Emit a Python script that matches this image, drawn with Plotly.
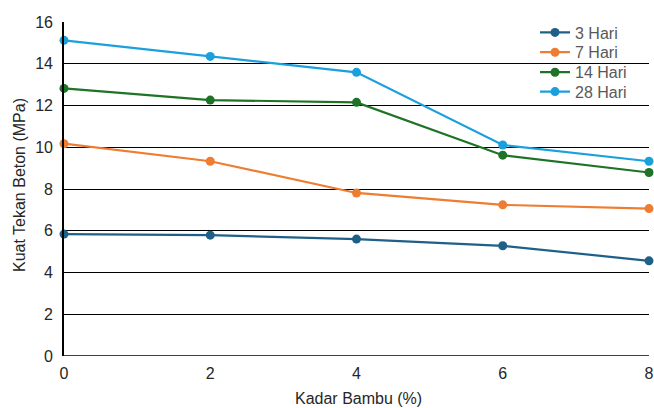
import plotly.graph_objects as go

kadar = [0, 2, 4, 6, 8]
series_names = ["3 Hari", "7 Hari", "14 Hari", "28 Hari"]
hari3 = [5.84, 5.79, 5.60, 5.28, 4.56]
hari7 = [10.17, 9.33, 7.81, 7.24, 7.06]
hari14 = [12.82, 12.26, 12.15, 9.62, 8.79]
hari28 = [15.12, 14.35, 13.59, 10.11, 9.33]
colors = ["#1f6089", "#ee7d31", "#1e7326", "#1aa0dc"]

L, R, T, B = 64, 5, 22, 52
W, H = 654, 408
pw = W - L - R
ph = H - T - B
legend_rows = [32.5, 52.3, 72.3, 91.7]

fig = go.Figure()
legend_ids = ["legend", "legend2", "legend3", "legend4"]
for name, vals, c, lid in zip(series_names, [hari3, hari7, hari14, hari28], colors, legend_ids):
    fig.add_trace(go.Scatter(x=kadar, y=vals, name=name, mode="lines+markers",
                             line=dict(color=c, width=2.2), marker=dict(color=c, size=9),
                             cliponaxis=False, legend=lid))

legend_layout = {}
for lid, ry in zip(legend_ids, legend_rows):
    legend_layout[lid] = dict(x=(535 - L) / pw, y=1 - (ry - 17 - T) / ph, xanchor="left",
                              yanchor="top", bgcolor="rgba(0,0,0,0)",
                              font=dict(size=16, color="#595959"), itemwidth=30)

fig.update_layout(
    width=W, height=H,
    margin=dict(l=L, r=R, t=T, b=B, autoexpand=False),
    paper_bgcolor="white", plot_bgcolor="white",
    font=dict(family="Liberation Sans, Arial", size=16, color="#404040"),
    showlegend=True,
    xaxis=dict(range=[0, 8], tickvals=[0, 2, 4, 6, 8], showgrid=False, zeroline=False,
               showline=False, ticks="", tickfont=dict(size=16, color="#262626"),
               automargin=False, ticklabelstandoff=6),
    yaxis=dict(range=[0, 16], tickvals=list(range(0, 17, 2)), showgrid=True, gridcolor="black",
               gridwidth=1.2, zeroline=False, showline=True, linecolor="black", linewidth=1.6,
               ticks="", tickfont=dict(size=16, color="#262626"), automargin=False,
               ticklabelstandoff=6),
    **legend_layout,
)
fig.add_shape(type="line", xref="paper", yref="y", x0=0, x1=1, y0=0, y1=0,
              line=dict(color="black", width=1.6), layer="below")
fig.add_annotation(text="Kadar Bambu (%)", xref="paper", yref="paper",
                   x=(358 - L) / pw, y=-(398 - (H - B)) / ph, xanchor="center",
                   yanchor="middle", showarrow=False, font=dict(size=16, color="#262626"))
fig.add_annotation(text="Kuat Tekan Beton (MPa)", xref="paper", yref="paper",
                   x=(19 - L) / pw, y=1 - (185 - T) / ph, xanchor="center",
                   yanchor="middle", textangle=-90, showarrow=False,
                   font=dict(size=16, color="#262626"))
fig.write_html("out.html", config={"displayModeBar": False},
               post_script="document.body.style.margin='0';document.body.style.overflow='hidden';")
